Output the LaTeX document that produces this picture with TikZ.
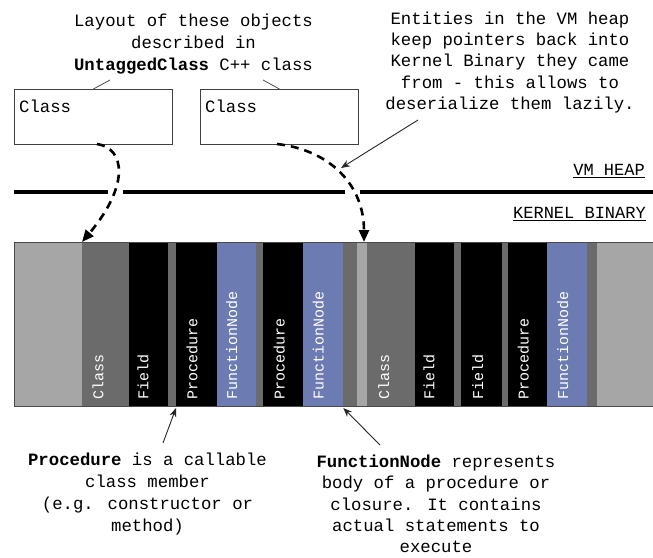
\documentclass[tikz,border=0pt]{standalone}
\usepackage{fontspec}
\newfontfamily\mono{Liberation Mono}
\usetikzlibrary{arrows.meta}
\definecolor{lg}{HTML}{A6A6A6}
\definecolor{dg}{HTML}{6B6B6B}
\definecolor{bl}{RGB}{108,124,178}
\definecolor{edge}{HTML}{4A4A4A}
\begin{document}
\begin{tikzpicture}[x=1pt,y=-1pt,
  seg/.style={anchor=north west, inner sep=0, outer sep=0, minimum height=164pt, draw=none},
  vlab/.style={rotate=90, anchor=west, inner sep=0, text=white, font=\mono\fontsize{15}{15}\selectfont},
  txt/.style={align=center, inner sep=0, font=\mono\fontsize{17.3}{22}\selectfont},
  txtb/.style={align=center, inner sep=0, font=\mono\fontsize{17.3}{21.3}\selectfont},
  heaplab/.style={anchor=east, inner sep=0, font=\mono\fontsize{17}{17}\selectfont},
  objbox/.style={draw=black!75, line width=0.8pt, anchor=north west, minimum width=158pt, minimum height=55pt, inner sep=0},
  dasharrow/.style={line width=2.6pt, dash pattern=on 8pt off 6pt, -{Triangle[length=12pt,width=10pt]}},
  thinarrow/.style={line width=0.9pt, draw=black!85, -{Stealth[length=9pt,width=7pt]}},
  leader/.style={line width=0.8pt, draw=black!70},
  heapline/.style={line width=3.6pt}
]
\useasboundingbox (0,0) rectangle (653,557);

% ---- texts ----
\node[txt] (tl) at (193.5,44) {Layout of these objects\\described in\\\textbf{UntaggedClass} C++ class};
\node[txtb] (tr) at (510,62.5) {Entities in the VM heap\\keep pointers back into\\Kernel Binary they came\\from - this allows to\\deserialize them lazily.};
\node[txt] (bl) at (147.5,494.5) {\textbf{Procedure} is a callable\\class member\\(e.g. constructor or\\method)};
\node[txtb] (br) at (436,504) {\textbf{FunctionNode} represents\\body of a procedure or\\closure. It contains\\actual statements to\\execute};

% ---- heap objects ----
\node[objbox] (box1) at (14,89) {};
\node[objbox] (box2) at (200,89) {};
\node[anchor=west, inner sep=0, font=\mono\fontsize{17.3}{17.3}\selectfont] (box1lab) at (19,106) {Class};
\node[anchor=west, inner sep=0, font=\mono\fontsize{17.3}{17.3}\selectfont] (box2lab) at (205,106) {Class};
\coordinate (ld1) at (110,80);
\coordinate (ld2) at (263,80);
\draw[leader] (box1.north) -- (ld1);
\draw[leader] (box2.north) -- (ld2);

% ---- heap separator ----
\draw[heapline] (14,192) -- (108,192);
\draw[heapline] (123,192) -- (345,192);
\draw[heapline] (360,192) -- (653,192);
\node[heaplab] (vmh) at (645,171) {\underline{VM\ HEAP}};
\node[heaplab] (kb) at (646,214) {\underline{KERNEL\ BINARY}};

% ---- kernel binary strip ----
\node[seg, fill=lg,    minimum width=68pt]   (s1)  at (14,242) {};
\node[seg, fill=dg,    minimum width=47pt]   (s2)  at (82,242) {};
\node[seg, fill=black, minimum width=39pt]   (s3)  at (129,242) {};
\node[seg, fill=dg,    minimum width=8pt]    (s4)  at (168,242) {};
\node[seg, fill=black, minimum width=40.7pt] (s5)  at (176,242) {};
\node[seg, fill=bl,    minimum width=39.3pt] (s6)  at (216.7,242) {};
\node[seg, fill=dg,    minimum width=7.3pt]  (s7)  at (256,242) {};
\node[seg, fill=black, minimum width=40pt]   (s8)  at (263.3,242) {};
\node[seg, fill=bl,    minimum width=40pt]   (s9)  at (303.3,242) {};
\node[seg, fill=dg,    minimum width=13.4pt] (s10) at (343.3,242) {};
\node[seg, fill=lg,    minimum width=10pt]   (s11) at (356.7,242) {};
\node[seg, fill=dg,    minimum width=48.3pt] (s12) at (366.7,242) {};
\node[seg, fill=black, minimum width=39pt]   (s13) at (415,242) {};
\node[seg, fill=dg,    minimum width=6.7pt]  (s14) at (454,242) {};
\node[seg, fill=black, minimum width=41pt]   (s15) at (460.7,242) {};
\node[seg, fill=dg,    minimum width=6.6pt]  (s16) at (501.7,242) {};
\node[seg, fill=black, minimum width=38.4pt] (s17) at (508.3,242) {};
\node[seg, fill=bl,    minimum width=40.6pt] (s18) at (546.7,242) {};
\node[seg, fill=dg,    minimum width=9.4pt]  (s19) at (587.3,242) {};
\node[seg, fill=lg,    minimum width=56.3pt] (s20) at (596.7,242) {};
\draw[edge, line width=1pt] (653,242) -- (14,242) -- (14,406) -- (653,406);

\node[vlab] at ([xshift=16pt,yshift=6pt]s2.south west)  {Class};
\node[vlab] at ([xshift=14pt,yshift=6pt]s3.south west)  {Field};
\node[vlab] at ([xshift=16pt,yshift=6pt]s5.south west)  {Procedure};
\node[vlab] at ([xshift=15pt,yshift=6pt]s6.south west)  {FunctionNode};
\node[vlab] at ([xshift=16pt,yshift=6pt]s8.south west)  {Procedure};
\node[vlab] at ([xshift=15pt,yshift=6pt]s9.south west)  {FunctionNode};
\node[vlab] at ([xshift=17pt,yshift=6pt]s12.south west) {Class};
\node[vlab] at ([xshift=14pt,yshift=6pt]s13.south west) {Field};
\node[vlab] at ([xshift=17pt,yshift=6pt]s15.south west) {Field};
\node[vlab] at ([xshift=15pt,yshift=6pt]s17.south west) {Procedure};
\node[vlab] at ([xshift=16pt,yshift=6pt]s18.south west) {FunctionNode};

% ---- connectors ----
\coordinate (c1s) at (97,144);
\coordinate (c2s) at (277,144);
\coordinate (c2e) at (364,242);
\draw[dasharrow] (c1s) .. controls (125,148) and (130,185) .. (s2.north west);
\draw[dasharrow] (c2s) .. controls (330,150) and (364,185) .. (c2e);

\coordinate (tra) at (418,120);
\coordinate (trb) at (341,168);
\draw[thinarrow] (tra) -- (trb);

\coordinate (bla) at (163,443);
\draw[thinarrow] (bla) -- ([yshift=-2pt]s5.south west);
\coordinate (bra) at (380,445);
\draw[thinarrow] (bra) -- ([yshift=-2pt]s9.south east);
\end{tikzpicture}
\end{document}
